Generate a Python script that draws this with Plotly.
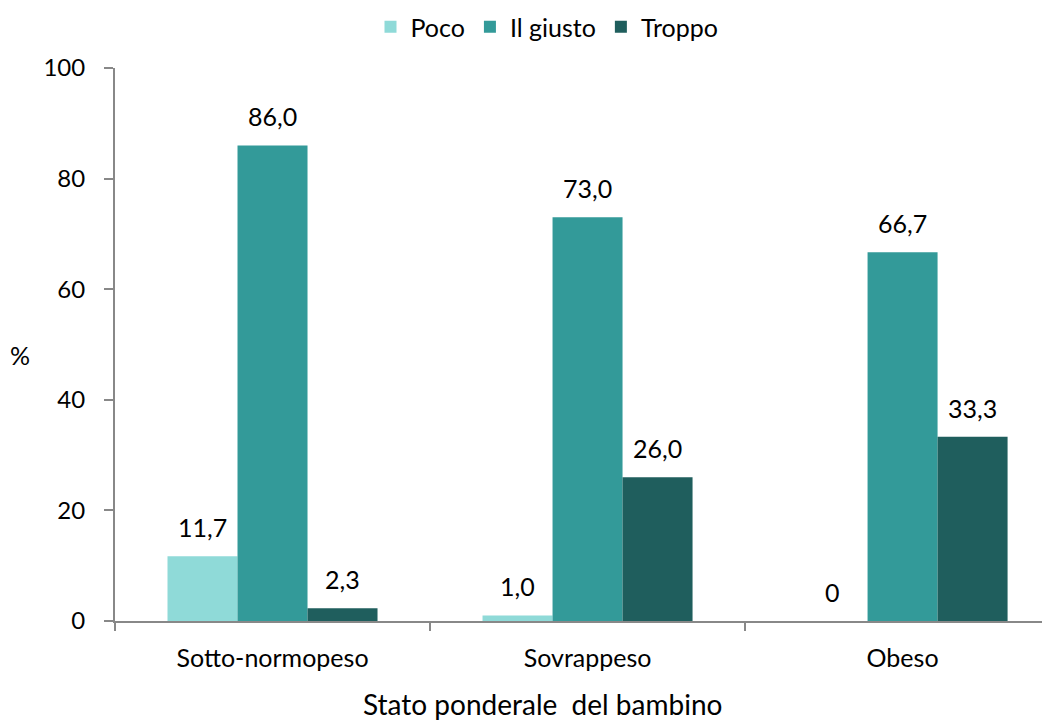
import plotly.graph_objects as go

categories = ["Sotto-normopeso", "Sovrappeso", "Obeso"]
series_names = ["Poco", "Il giusto", "Troppo"]
poco = [11.7, 1.0, 0]
giusto = [86.0, 73.0, 66.7]
troppo = [2.3, 26.0, 33.3]
colors = ["#8FDAD8", "#339A99", "#1F5E5D"]
y_ticks = [0, 20, 40, 60, 80, 100]

FONT = "Lato"
FS = 25
bargap = 1 / 3

# page offset of the rendered div (browser body margin)
OX, OY = 8, 8
L, T, PW, PH = 115 - OX, 68 - OY, 935, 553


def fmt(v):
    if v == 0:
        return "0"
    return f"{v:.1f}".replace(".", ",")


def px_x(sx):
    return (sx - OX - L) / PW


def px_y(sy):
    return (T + PH - (sy - OY)) / PH


fig = go.Figure()
all_series = [poco, giusto, troppo]
for name, vals, col in zip(series_names, all_series, colors):
    fig.add_trace(go.Bar(x=categories, y=vals, name=name, marker=dict(color=col, line=dict(width=0))))

annotations = []
bw = (1 - bargap) / 3
for k, vals in enumerate(all_series):
    for i, v in enumerate(vals):
        annotations.append(dict(x=i + (k - 1) * bw, y=v, xref="x", yref="y", text=fmt(v),
                                showarrow=False, yanchor="middle", yshift=29,
                                font=dict(family=FONT, size=FS, color="#000000")))

annotations.append(dict(text="%", xref="paper", yref="paper", x=px_x(20), y=px_y(355),
                        xanchor="center", yanchor="middle", showarrow=False,
                        font=dict(family=FONT, size=FS, color="#000000")))
annotations.append(dict(text="Stato ponderale  del bambino", xref="paper", yref="paper",
                        x=px_x(542), y=px_y(704), xanchor="center", yanchor="middle",
                        showarrow=False, font=dict(family=FONT, size=28, color="#000000")))

fig.update_layout(
    width=1050, height=720,
    margin=dict(l=L, r=1050 - L - PW, t=T, b=720 - T - PH, autoexpand=False),
    paper_bgcolor="white", plot_bgcolor="white",
    barmode="group", bargap=bargap, bargroupgap=0,
    font=dict(family=FONT, size=FS, color="#000000"),
    showlegend=True,
    legend=dict(orientation="h", x=px_x(547), xanchor="center", y=px_y(27), yanchor="middle",
                font=dict(family=FONT, size=FS), itemwidth=30, traceorder="normal"),
    annotations=annotations,
    separators=",.",
)
fig.update_xaxes(type="category", range=[-0.5, 2.468], showline=True, linecolor="#888888", linewidth=2,
                 ticks="outside", tickson="boundaries", ticklen=8, tickcolor="#888888", tickwidth=2,
                 showgrid=False, zeroline=False, ticklabelstandoff=14, automargin=False,
                 tickfont=dict(family=FONT, size=FS))
fig.update_yaxes(range=[0, 100], tickvals=y_ticks, showline=True, linecolor="#888888", linewidth=2,
                 ticks="outside", ticklen=9, tickcolor="#888888", tickwidth=2, showgrid=False,
                 zeroline=False, ticklabelstandoff=14, automargin=False,
                 tickfont=dict(family=FONT, size=24))

fig.write_html("out.html")
